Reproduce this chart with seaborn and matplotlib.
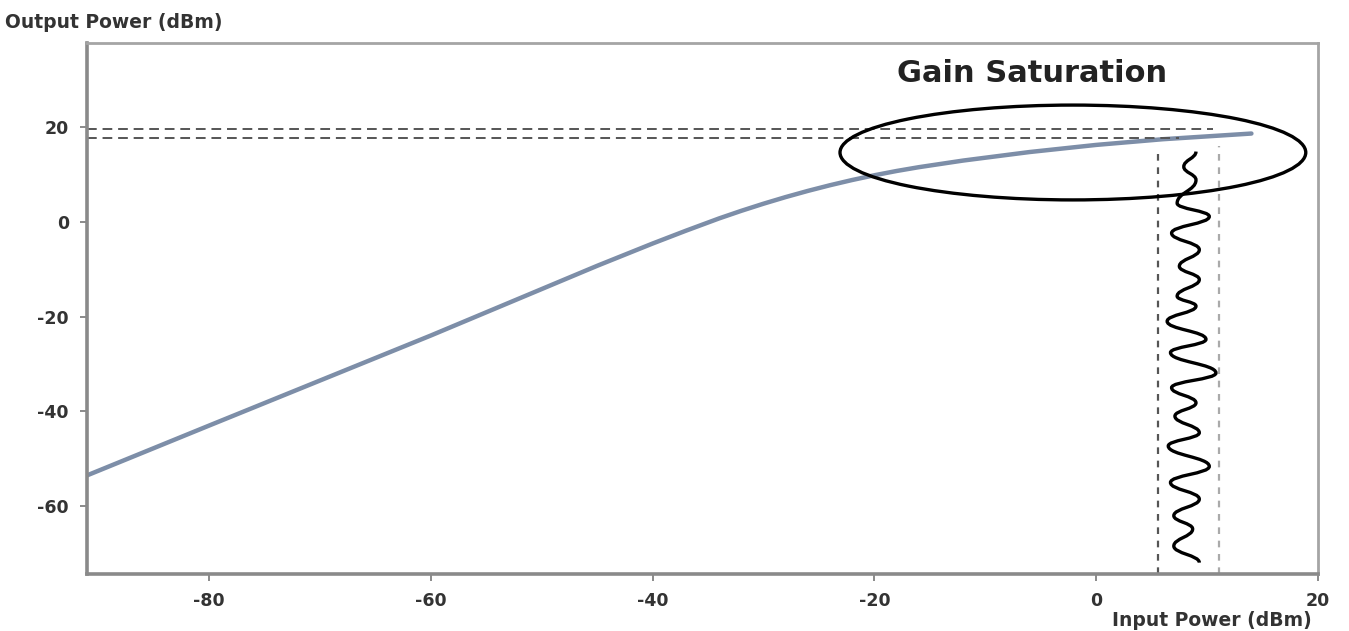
import numpy as np
import pandas as pd
import seaborn as sns
import matplotlib
matplotlib.use("Agg")
import matplotlib.pyplot as plt
from matplotlib.patches import Ellipse, PathPatch
from matplotlib.path import Path

# ---------------- data ----------------
input_power = [-91, -80, -70, -60, -50, -45, -40, -37, -34, -32, -30, -28, -26, -24, -22,
               -20, -18, -16, -14, -12, -10, -8, -6, -4, -2, 0, 2, 4, 6, 8, 10, 12, 14]
output_power = [-53.5, -43, -33.5, -24, -14.2, -9.3, -4.6, -1.9, 0.7, 2.3, 3.8, 5.2, 6.5,
                7.7, 8.8, 9.8, 10.7, 11.5, 12.2, 12.9, 13.5, 14.1, 14.7, 15.2, 15.7, 16.2,
                16.6, 17.0, 17.4, 17.7, 18.0, 18.3, 18.6]

# saturation reference levels (dBm) and where they end on the x axis
sat_levels = [19.6, 17.6]
sat_level_ends = [10.5, 7.5]

# vertical signal envelope bounds (dBm input)
envelope_x = [5.6, 11.1]
envelope_top = [15.5, 16.0]

# extremes of the input-signal wave drawn between the envelope bounds
wave_x = [9.0, 7.9, 9.0, 7.3, 10.2, 6.8, 9.3, 7.5, 9.3, 7.3, 9.0, 6.4, 9.9, 6.7,
          10.8, 6.8, 9.0, 7.1, 9.3, 6.5, 10.2, 6.7, 9.3, 7.0, 8.7, 7.0, 9.3]
wave_y = [14.8, 11.6, 8.8, 3.9, 1.1, -2.4, -5.9, -9.4, -12.2, -15.7, -17.8, -21.0,
          -24.8, -27.6, -31.9, -35.0, -38.2, -41.0, -44.5, -47.3, -51.6, -55.0,
          -58.5, -62.0, -64.8, -68.4, -71.9]

# annotation ellipse (center x, center y, width, height)
ellipse_center = (-2.1, 14.6)
ellipse_size = (42.0, 20.0)

x_ticks = [-80, -60, -40, -20, 0, 20]
y_ticks = [-60, -40, -20, 0, 20]

# ---------------- plot ----------------
sns.set_theme(style="white")
plt.rcParams['font.family'] = ['DejaVu Sans']

fig = plt.figure(figsize=(13.49, 6.31), dpi=100)
ax = fig.add_axes([0.0645, 0.0903, 0.9125, 0.8416])

df = pd.DataFrame({"Input": input_power, "Output": output_power})
sns.lineplot(data=df, x="Input", y="Output", ax=ax, color="#7d8ea8", lw=3.2, sort=False)

for lvl, xe in zip(sat_levels, sat_level_ends):
    ax.plot([-91, xe], [lvl, lvl], ls=(0, (5, 3)), color="#555555", lw=1.4)

ax.plot([envelope_x[0]] * 2, [-74.3, envelope_top[0]], ls=(0, (3, 3)), color="#555555", lw=1.6)
ax.plot([envelope_x[1]] * 2, [-74.3, envelope_top[1]], ls=(0, (3, 3)), color="#aaaaaa", lw=1.6)

# smooth wave through the extremes (Bezier with vertical tangents at extremes)
verts = [(wave_x[0], wave_y[0])]
codes = [Path.MOVETO]
for i in range(1, len(wave_x)):
    x0, y0 = wave_x[i - 1], wave_y[i - 1]
    x1, y1 = wave_x[i], wave_y[i]
    dy = (y1 - y0) * 0.45
    verts += [(x0, y0 + dy), (x1, y1 - dy), (x1, y1)]
    codes += [Path.CURVE4] * 3
ax.add_patch(PathPatch(Path(verts, codes), fill=False, edgecolor="black", lw=2.4, zorder=4))

ax.add_patch(Ellipse(ellipse_center, ellipse_size[0], ellipse_size[1], fill=False,
                     edgecolor="black", lw=2.4, zorder=5))

ax.text(-5.8, 31.3, "Gain Saturation", ha="center", va="center", fontsize=22,
        color="#222222", fontweight="bold")

ax.set_xlim(-91, 20)
ax.set_ylim(-74.3, 37.7)
ax.set_xticks(x_ticks)
ax.set_yticks(y_ticks)
ax.set_xticklabels([str(t) for t in x_ticks], fontsize=12.5, fontweight="bold", color="#333333")
ax.set_yticklabels([str(t) for t in y_ticks], fontsize=12.5, fontweight="bold", color="#333333")
ax.tick_params(axis="both", which="major", direction="out", length=5, width=1.2,
               color="#777777", bottom=True, left=True, pad=8)
ax.set_xlabel("")
ax.set_ylabel("")

for side in ["left", "bottom"]:
    ax.spines[side].set_color("#8a8a8a")
    ax.spines[side].set_linewidth(2.6)
for side in ["top", "right"]:
    ax.spines[side].set_color("#a5a5a5")
    ax.spines[side].set_linewidth(2.0)

fig.text(5 / 1349, 1 - 23 / 631, "Output Power (dBm)", ha="left", va="center",
         fontsize=13.5, fontweight="bold", color="#333333")
fig.text(1312 / 1349, 1 - 620 / 631, "Input Power (dBm)", ha="right", va="center",
         fontsize=13.5, fontweight="bold", color="#333333")

fig.savefig("out.png", dpi=100)
